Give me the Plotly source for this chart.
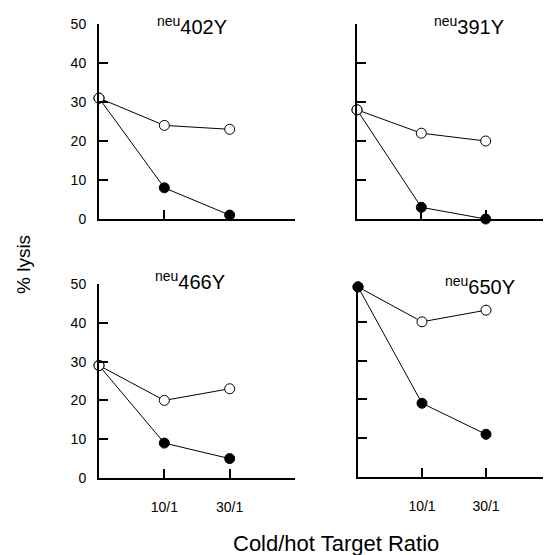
import plotly.graph_objects as go

# ---- data ----
ratios = ["0", "10/1", "30/1"]
panel_names = ["402Y", "391Y", "466Y", "650Y"]
open_402 = [31, 24, 23]
filled_402 = [31, 8, 1]
open_391 = [28, 22, 20]
filled_391 = [28, 3, 0]
open_466 = [29, 20, 23]
filled_466 = [29, 9, 5]
open_650 = [49, 40, 43]
filled_650 = [49, 19, 11]
y_ticks = [0, 10, 20, 30, 40, 50]

OFF = 8  # page body margin offset
W, H = 543, 547


def fx(px):
    return (px - OFF) / W


def fy(py):
    return (H - (py - OFF)) / H


panels = [
    dict(name=panel_names[0], o=open_402, f=filled_402, x0=99, x1=295, ytop=24, ybot=219, labels_y=True, labels_x=False, open_on_top=True),
    dict(name=panel_names[1], o=open_391, f=filled_391, x0=357, x1=550, ytop=24, ybot=219, labels_y=False, labels_x=False, open_on_top=True),
    dict(name=panel_names[2], o=open_466, f=filled_466, x0=99, x1=295, ytop=284, ybot=478, labels_y=True, labels_x=True, open_on_top=True),
    dict(name=panel_names[3], o=open_650, f=filled_650, x0=358, x1=550, ytop=283, ybot=477, labels_y=False, labels_x=True, open_on_top=False),
]

fig = go.Figure()
layout = dict(
    width=W, height=H, margin=dict(l=0, r=0, t=0, b=0, autoexpand=False),
    paper_bgcolor="white", plot_bgcolor="white", showlegend=False,
    font=dict(family="Liberation Sans, Arial, sans-serif", color="black", size=14),
)
annotations = []
shapes = []
for i, p in enumerate(panels):
    k = "" if i == 0 else str(i + 1)
    xa, ya = "x" + k, "y" + k
    line = dict(color="black", width=1)
    tr_open = go.Scatter(x=ratios, y=p["o"], mode="lines+markers", xaxis=xa, yaxis=ya, cliponaxis=False,
                         line=line, marker=dict(symbol="circle", size=10, color="white", line=dict(color="black", width=1)))
    tr_fill = go.Scatter(x=ratios, y=p["f"], mode="lines+markers", xaxis=xa, yaxis=ya, cliponaxis=False,
                         line=line, marker=dict(symbol="circle", size=10, color="black", line=dict(color="black", width=1)))
    if p["open_on_top"]:
        fig.add_trace(tr_fill); fig.add_trace(tr_open)
    else:
        fig.add_trace(tr_open); fig.add_trace(tr_fill)
    xd = [fx(p["x0"]), min(fx(p["x1"]), 1)]
    yd = [fy(p["ybot"]), fy(p["ytop"])]
    layout["xaxis" + k] = dict(
        domain=xd, anchor=ya, type="category", categoryorder="array", categoryarray=ratios,
        range=[0, 3], showgrid=False, zeroline=False, showline=True, linecolor="black", linewidth=2,
        ticks="inside", ticklen=9, tickwidth=2, tickcolor="black", automargin=False,
        tickvals=["10/1", "30/1"], ticktext=["10/1", "30/1"], showticklabels=p["labels_x"],
        ticklabelstandoff=15, tickfont=dict(size=14),
    )
    layout["yaxis" + k] = dict(
        domain=yd, anchor=xa, range=[0, 50], showgrid=False, zeroline=False,
        showline=True, linecolor="black", linewidth=2, automargin=False,
        ticks="inside", ticklen=9, tickwidth=2, tickcolor="black",
        tickvals=y_ticks, showticklabels=p["labels_y"], ticklabelstandoff=8, tickfont=dict(size=14),
    )
    if i in (1, 3):
        shapes.append(dict(type="line", xref=xa, yref=ya, x0=3, x1=3, y0=0, y1=2.3,
                           line=dict(color="black", width=2)))
    tx = {0: 192, 1: 469, 2: 190, 3: 480}[i]
    ty = {0: 40, 1: 40, 2: 295, 3: 300}[i]
    annotations.append(dict(
        text="<sup>neu</sup>" + p["name"], x=fx(tx), y=fy(ty), xref="paper", yref="paper",
        showarrow=False, xanchor="center", yanchor="bottom", font=dict(size=20),
    ))

annotations.append(dict(text="% lysis", x=fx(23), y=fy(265), xref="paper", yref="paper",
                        showarrow=False, textangle=-90, xanchor="center", yanchor="middle", font=dict(size=19)))
annotations.append(dict(text="Cold/hot Target Ratio", x=fx(336), y=fy(543), xref="paper", yref="paper",
                        showarrow=False, xanchor="center", yanchor="middle", font=dict(size=22)))
layout["annotations"] = annotations
layout["shapes"] = shapes
fig.update_layout(**layout)
fig.write_html("out.html")
